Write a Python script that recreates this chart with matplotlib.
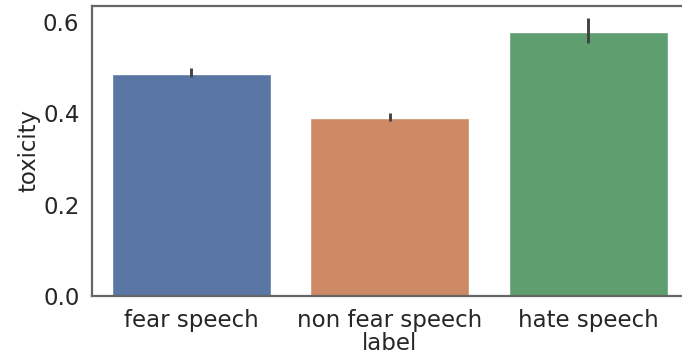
import numpy as np
import matplotlib
matplotlib.use("Agg")
import matplotlib.pyplot as plt
import seaborn as sns

# mean toxicity per label with lower / upper CI bounds
labels = ["fear speech", "non fear speech", "hate speech"]
toxicity = [0.487, 0.390, 0.579]
ci_low = [0.480, 0.384, 0.553]
ci_high = [0.500, 0.401, 0.608]

sns.set_style("white")
plt.rcParams['font.family'] = ['DejaVu Sans']

colors = [sns.desaturate(c, 0.75) for c in sns.color_palette("deep", 3)]

fig = plt.figure(figsize=(6.82, 3.57), dpi=100)
ax = fig.add_axes([92 / 682, 61 / 357, 595.5 / 682, 290 / 357])

x = np.arange(len(labels))
ax.bar(x, toxicity, width=0.8, color=colors, zorder=2)
err = [np.array(toxicity) - np.array(ci_low), np.array(ci_high) - np.array(toxicity)]
ax.errorbar(x, toxicity, yerr=err, fmt="none", ecolor=".26", elinewidth=2.1,
            capsize=0, zorder=3)

ax.set_xlim(-0.5, 2.5)
ax.set_ylim(0, 0.635)
ax.set_yticks([0.0, 0.2, 0.4, 0.6])
ax.set_yticklabels(["0.0", "0.2", "0.4", "0.6"])
ax.set_xticks(x)
ax.set_xticklabels(labels)
ax.tick_params(axis="both", length=0, labelsize=16.5, colors=".15", pad=9)
ax.set_xlabel("label", fontsize=16.5, color=".15", labelpad=0.5)
ax.set_ylabel("toxicity", fontsize=16.5, color=".15", labelpad=2)

for s in ax.spines.values():
    s.set_color(".4")
    s.set_linewidth(1.6)
# the right edge falls outside the saved canvas anyway
ax.spines["right"].set_visible(False)

fig.savefig("out.png", dpi=100)
